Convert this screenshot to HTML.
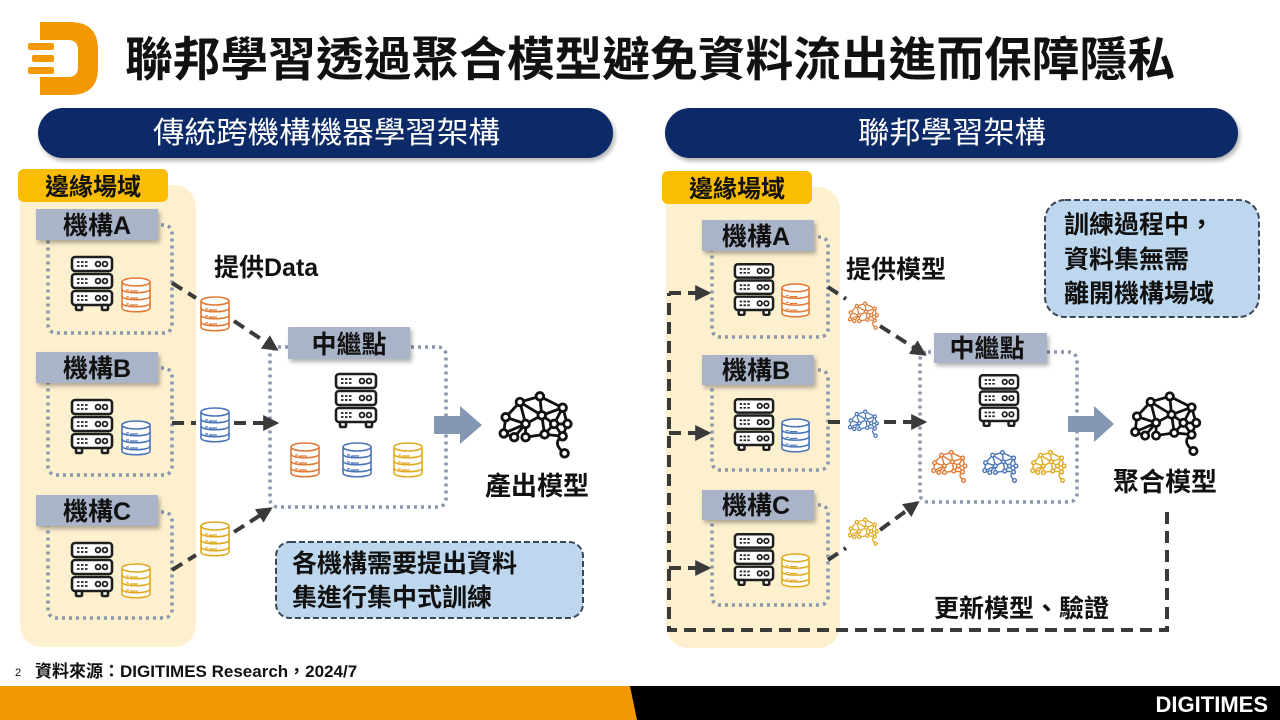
<!DOCTYPE html>
<html><head><meta charset="utf-8"><style>
html,body{margin:0;padding:0;background:#fff;}
svg{display:block;}
text{font-family:"Liberation Sans","Noto Sans CJK TC",sans-serif;}
</style></head><body>
<svg width="1280" height="720" viewBox="0 0 1280 720" xmlns="http://www.w3.org/2000/svg">
<defs>
  <symbol id="srv" viewBox="0 0 44 58">
    <g fill="#fff" stroke="#1e1e1e" stroke-width="2.6">
      <rect x="2" y="2" width="40" height="14" rx="3"/>
      <rect x="2" y="19" width="40" height="14" rx="3"/>
      <rect x="2" y="36" width="40" height="14" rx="3"/>
      <rect x="6" y="50" width="6" height="5" rx="1"/>
      <rect x="32" y="50" width="6" height="5" rx="1"/>
    </g>
    <g fill="none" stroke="#1e1e1e" stroke-width="1.8">
      <path d="M7 7h12M7 11h12M7 24h12M7 28h12M7 41h12M7 45h12" stroke-dasharray="2.5 1.5"/>
      <circle cx="28" cy="9" r="2.4"/><circle cx="35" cy="9" r="2.4"/>
      <circle cx="28" cy="26" r="2.4"/><circle cx="35" cy="26" r="2.4"/>
      <circle cx="28" cy="43" r="2.4"/><circle cx="35" cy="43" r="2.4"/>
    </g>
  </symbol>
  <symbol id="db" viewBox="0 0 32 38">
    <g fill="#fff" stroke="currentColor" stroke-width="1.6">
      <path d="M2 6v26c0 5 28 5 28 0V6"/>
      <ellipse cx="16" cy="6" rx="14" ry="4"/>
      <path d="M2 13c0 5 28 5 28 0M2 20c0 5 28 5 28 0M2 27c0 5 28 5 28 0" fill="none"/>
      <path d="M6 14h3M10 15h8M6 21h3M10 22h8M6 28h3M10 29h8" fill="none" stroke-width="1.2"/>
    </g>
  </symbol>
  <symbol id="brain" viewBox="0 0 90 80">
    <g fill="none" stroke="currentColor" stroke-width="3">
      <path d="M48 13L27 19M48 13L72 25M48 13L50 33M27 19L12 35M27 19L33 42M27 19L50 33M72 25L50 33M72 25L77 42M72 25L63 42M12 35L33 42M12 35L10 52M50 33L33 42M50 33L63 42M50 33L53 53M33 42L10 52M33 42L21 56M33 42L33 56M63 42L77 42M63 42L72 55M77 42L72 55M10 52L21 56M33 56L53 53M53 53L72 55M53 53L63 42M72 55Q60 62 74 73"/>
    </g>
    <g fill="#fff" stroke="currentColor" stroke-width="3">
      <circle cx="48" cy="13" r="4"/><circle cx="27" cy="19" r="4"/><circle cx="72" cy="25" r="4"/>
      <circle cx="12" cy="35" r="4"/><circle cx="50" cy="33" r="4"/><circle cx="33" cy="42" r="4"/>
      <circle cx="63" cy="42" r="4"/><circle cx="77" cy="42" r="4"/><circle cx="10" cy="52" r="4"/>
      <circle cx="21" cy="56" r="4"/><circle cx="33" cy="56" r="4"/><circle cx="53" cy="53" r="4"/>
      <circle cx="72" cy="55" r="4"/><circle cx="74" cy="73" r="4"/>
    </g>
  </symbol>
  <marker id="ah" viewBox="0 0 10 10" refX="8" refY="5" markerWidth="4" markerHeight="4" orient="auto">
    <path d="M0 0L10 5L0 10z" fill="#3a3a3a"/>
  </marker>
  <filter id="sh" x="-10%" y="-10%" width="120%" height="140%">
    <feDropShadow dx="2" dy="3" stdDeviation="2" flood-color="#000" flood-opacity="0.3"/>
  </filter>
</defs>

<!-- logo -->
<g fill="#f39800">
  <path d="M40 22h30q28 0 28 28v18q0 27-28 27H40v-18h28q10 0 10-10V50q0-10-10-10H40z"/>
  <rect x="28" y="43" width="26" height="7" rx="2"/>
  <rect x="32" y="55" width="22" height="7" rx="2"/>
  <rect x="28" y="67" width="26" height="7" rx="2"/>
</g>
<text x="125" y="76" font-size="47" font-weight="bold" fill="#111" textLength="1050" lengthAdjust="spacingAndGlyphs">聯邦學習透過聚合模型避免資料流出進而保障隱私</text>

<!-- pills -->
<rect x="38" y="108" width="575" height="50" rx="25" fill="#0d2a67" filter="url(#sh)"/>
<text x="153" y="143" font-size="30" fill="#fff" textLength="347" lengthAdjust="spacingAndGlyphs">傳統跨機構機器學習架構</text>
<rect x="665" y="108" width="573" height="50" rx="25" fill="#0d2a67" filter="url(#sh)"/>
<text x="858" y="143" font-size="30" fill="#fff" textLength="188" lengthAdjust="spacingAndGlyphs">聯邦學習架構</text>

<!-- LEFT -->
<rect x="20" y="185" width="176" height="462" rx="22" fill="#fdf0cf"/>
<rect x="18" y="169" width="150" height="33" rx="6" fill="#fbbd00"/>
<text x="93" y="195" font-size="24" font-weight="bold" fill="#111" text-anchor="middle">邊緣場域</text>

<g fill="none" stroke="#8a96aa" stroke-width="3.5" stroke-dasharray="3 4">
  <rect x="48" y="225" width="124" height="108" rx="8"/>
  <rect x="48" y="368" width="124" height="107" rx="8"/>
  <rect x="48" y="512" width="124" height="106" rx="8"/>
  <rect x="270" y="347" width="176" height="160" rx="8"/>
</g>
<g fill="#a9b4c8" filter="url(#sh)">
  <rect x="36" y="209" width="122" height="31"/>
  <rect x="36" y="352" width="122" height="31"/>
  <rect x="36" y="495" width="122" height="31"/>
  <rect x="288" y="327" width="122" height="32"/>
</g>
<g font-size="25" font-weight="bold" fill="#111" text-anchor="middle">
  <text x="97" y="234">機構A</text>
  <text x="97" y="377">機構B</text>
  <text x="97" y="520">機構C</text>
  <text x="349" y="353">中繼點</text>
</g>
<use href="#srv" x="70" y="255" width="44" height="58"/>
<use href="#srv" x="70" y="398" width="44" height="58"/>
<use href="#srv" x="70" y="541" width="44" height="58"/>
<use href="#srv" x="334" y="372" width="44" height="58"/>
<use href="#db" x="120" y="276" width="32" height="38" color="#e07a35"/>
<use href="#db" x="120" y="419" width="32" height="38" color="#4a74b8"/>
<use href="#db" x="120" y="562" width="32" height="38" color="#e0aa20"/>
<use href="#db" x="199" y="295" width="32" height="38" color="#e07a35"/>
<use href="#db" x="199" y="406" width="32" height="38" color="#4a74b8"/>
<use href="#db" x="199" y="520" width="32" height="38" color="#e0aa20"/>
<use href="#db" x="289" y="441" width="32" height="38" color="#e07a35"/>
<use href="#db" x="341" y="441" width="32" height="38" color="#4a74b8"/>
<use href="#db" x="392" y="441" width="32" height="38" color="#e0aa20"/>

<g fill="none" stroke="#3a3a3a" stroke-width="4" stroke-dasharray="12 7" marker-end="url(#ah)">
  <path d="M172 283L196 298M234 321L276 349"/>
  <path d="M172 423H196M234 423H276"/>
  <path d="M172 570L196 555M234 532L270 509"/>
</g>
<text x="214" y="276" font-size="25" font-weight="bold" fill="#111">提供Data</text>
<path d="M434 416h26v-10l22 19-22 19v-10h-26z" fill="#8396b2"/>
<use href="#brain" x="494" y="384" width="86" height="76" color="#111"/>
<text x="537" y="495" font-size="26" font-weight="bold" fill="#111" text-anchor="middle">產出模型</text>
<rect x="276" y="542" width="307" height="76" rx="14" fill="#bdd7ee" stroke="#3b4656" stroke-width="2" stroke-dasharray="6 3"/>
<text x="292" y="572" font-size="25" font-weight="bold" fill="#111">各機構需要提出資料</text>
<text x="292" y="606" font-size="25" font-weight="bold" fill="#111">集進行集中式訓練</text>

<!-- RIGHT -->
<rect x="666" y="187" width="174" height="461" rx="22" fill="#fdf0cf"/>
<rect x="662" y="171" width="150" height="33" rx="6" fill="#fbbd00"/>
<text x="737" y="197" font-size="24" font-weight="bold" fill="#111" text-anchor="middle">邊緣場域</text>
<g fill="none" stroke="#8a96aa" stroke-width="3.5" stroke-dasharray="3 4">
  <rect x="712" y="237" width="116" height="100" rx="8"/>
  <rect x="712" y="370" width="116" height="100" rx="8"/>
  <rect x="712" y="505" width="116" height="100" rx="8"/>
  <rect x="920" y="352" width="157" height="150" rx="8"/>
</g>
<g fill="#a9b4c8" filter="url(#sh)">
  <rect x="702" y="220" width="112" height="31"/>
  <rect x="702" y="355" width="112" height="30"/>
  <rect x="702" y="490" width="112" height="30"/>
  <rect x="934" y="333" width="113" height="30"/>
</g>
<g font-size="25" font-weight="bold" fill="#111" text-anchor="middle">
  <text x="756" y="245">機構A</text>
  <text x="756" y="379">機構B</text>
  <text x="756" y="514">機構C</text>
  <text x="987" y="357">中繼點</text>
</g>
<use href="#srv" x="733" y="262" width="42" height="56"/>
<use href="#srv" x="733" y="397" width="42" height="56"/>
<use href="#srv" x="733" y="532" width="42" height="56"/>
<use href="#srv" x="978" y="373" width="42" height="56"/>
<use href="#db" x="780" y="282" width="31" height="37" color="#e07a35"/>
<use href="#db" x="780" y="417" width="31" height="37" color="#4a74b8"/>
<use href="#db" x="780" y="552" width="31" height="37" color="#e0aa20"/>
<use href="#brain" x="846" y="298" width="36" height="33" color="#e07a35"/>
<use href="#brain" x="846" y="406" width="36" height="33" color="#4a74b8"/>
<use href="#brain" x="846" y="514" width="36" height="33" color="#e0aa20"/>
<use href="#brain" x="929" y="446" width="42" height="38" color="#e07a35"/>
<use href="#brain" x="980" y="446" width="42" height="38" color="#4a74b8"/>
<use href="#brain" x="1028" y="446" width="42" height="38" color="#e0aa20"/>

<g fill="none" stroke="#3a3a3a" stroke-width="4" stroke-dasharray="12 7" marker-end="url(#ah)">
  <path d="M828 287L846 299M880 326L924 354"/>
  <path d="M828 422H845M884 422H924"/>
  <path d="M828 560L846 548M880 530L917 503"/>
</g>
<g fill="none" stroke="#3a3a3a" stroke-width="4" stroke-dasharray="12 7">
  <path d="M1167 512V630H669V293"/>
</g>
<g fill="none" stroke="#3a3a3a" stroke-width="4" stroke-dasharray="12 7" marker-end="url(#ah)">
  <path d="M669 293H708"/>
  <path d="M669 433H708"/>
  <path d="M669 568H708"/>
</g>
<text x="846" y="278" font-size="25" font-weight="bold" fill="#111">提供模型</text>
<path d="M1068 416h26v-10l20 18-20 18v-10h-26z" fill="#8396b2"/>
<use href="#brain" x="1126" y="384" width="82" height="74" color="#111"/>
<text x="1165" y="491" font-size="26" font-weight="bold" fill="#111" text-anchor="middle">聚合模型</text>
<text x="934" y="617" font-size="25" font-weight="bold" fill="#111">更新模型、驗證</text>
<rect x="1045" y="200" width="214" height="117" rx="20" fill="#bdd7ee" stroke="#3b4656" stroke-width="2" stroke-dasharray="6 3"/>
<g font-size="25" font-weight="bold" fill="#111">
  <text x="1064" y="233">訓練過程中，</text>
  <text x="1064" y="268">資料集無需</text>
  <text x="1064" y="302">離開機構場域</text>
</g>

<!-- footer -->
<text x="15" y="676" font-size="11" fill="#111">2</text>
<text x="35" y="677" font-size="17" font-weight="bold" fill="#111">資料來源：DIGITIMES Research，2024/7</text>
<rect x="0" y="686" width="640" height="34" fill="#f39800"/>
<path d="M630 686H1280V720H637z" fill="#000"/>
<text x="1268" y="712" font-size="22" font-weight="bold" fill="#fff" text-anchor="end">DIGITIMES</text>
</svg>
</body></html>
